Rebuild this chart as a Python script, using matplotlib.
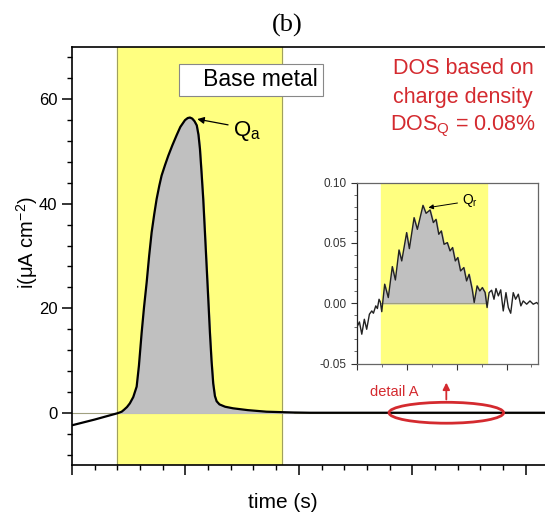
import matplotlib.pyplot as plt
from matplotlib.patches import Ellipse
from matplotlib.ticker import MultipleLocator, NullFormatter
import numpy as np

plt.rcParams['font.family'] = ['Liberation Sans', 'DejaVu Sans']
plt.rcParams['mathtext.default'] = 'regular'

# main transient (time in arbitrary s, current in uA cm-2)
t_main = [0, 20, 40, 42, 43.8, 46, 48.5, 51, 54, 57, 59, 61.4, 63.5, 65.8, 68, 70.2,
          72.5, 74.6, 77, 79, 82, 84.9, 88.5, 92.2, 95.5, 99.6, 102, 104, 106,
          108, 110, 111.5, 112.8, 114.2, 115.7, 117.2, 118.7, 120.2, 121.6, 123,
          124.5, 126, 127.5, 130, 135, 142, 155, 171.5, 195, 210, 260, 330, 417]
i_main = [-2.4, -1.3, -0.1, 0.05, 0.2, 0.6, 1.1, 1.8, 3.0, 5.0, 9.0, 15.3, 20.2, 24.9,
          30.0, 34.5, 38.0, 40.9, 43.5, 45.4, 47.4, 49.2, 51.2, 53.1, 54.7, 56.0,
          56.4, 56.5, 56.3, 55.8, 55.0, 53.2, 50.5, 46.0, 40.9, 34.5, 28.0, 21.5,
          15.3, 10.0, 5.6, 3.2, 2.2, 1.6, 1.15, 0.85, 0.5, 0.2, 0.05, 0.0, 0.0,
          0.0, 0.0]
band_main = (40, 185)

# detail A (inset)
t_det = [0, 1.5, 2.8, 4.2, 5.5, 7.0, 8.3, 9.2, 10.5, 11.4, 12.3, 13.0, 13.8,
         15.4, 17.4, 19.6, 21.3, 23.3, 24.8, 27.5, 29.0, 31.6, 33.4, 36.5, 38.2,
         40.4, 42.2, 43.7, 45.2, 46.6, 48.1, 49.9, 51.4, 52.8, 54.3, 55.7, 57.2,
         59.0, 60.5, 61.9, 63.6, 64.7, 66.3, 67.8, 69.2, 70.7, 71.8,
         72.9, 74.3, 75.6, 76.7, 78.0, 79.3, 80.7, 82.2, 83.5, 84.8, 86.2, 87.5,
         89.0, 90.4, 91.7, 93.6, 95.4, 97.2, 99.1, 100]
i_det = [-0.0202, -0.0155, -0.0257, -0.0133, -0.0216, -0.0091, -0.0064, -0.0083,
         -0.0022, -0.0044, 0.0033, 0.0011, -0.0070,
         0.0158, 0.0047, 0.0304, 0.0193, 0.0442, 0.0351, 0.0586, 0.0453, 0.0710,
         0.0613, 0.0812, 0.0746, 0.0774, 0.0669, 0.0696, 0.0572, 0.0600, 0.0489,
         0.0503, 0.0434, 0.0462, 0.0351, 0.0379, 0.0268, 0.0296, 0.0185, 0.0240,
         0.0116, 0.0006, 0.0144, 0.0102, 0.0130, 0.0089, -0.0036,
         0.0088, 0.0108, 0.0033, 0.0122, 0.0061, 0.0111, -0.0064, 0.0088, -0.0036,
         -0.0083, 0.0088, 0.0033, 0.0075, -0.0022, 0.0019, -0.0008, 0.0019,
         -0.0008, 0.0006, -0.0008]
band_det = (13.6, 71.8)

yellow = '#ffff80'
grey = '#c0c0c0'
red = '#d42a2f'

fig = plt.figure(figsize=(5.45, 5.13), dpi=100)
ax = fig.add_axes([72/545, 1 - 465/513, 1 - 72/545, (465 - 47)/513])

ax.axvspan(*band_main, color=yellow, zorder=0)
ax.axvline(band_main[0], color='#a0a060', lw=0.8, zorder=0.5)
ax.axvline(band_main[1], color='#a0a060', lw=0.8, zorder=0.5)
t = np.array(t_main)
i = np.array(i_main)
ax.fill_between(t, 0, i, where=(t >= band_main[0]) & (t <= band_main[1]) & (i > 0),
                color=grey, interpolate=True, zorder=1)
ax.axhline(0, color='#a0a080', lw=0.8, zorder=0.8)
ax.plot(t, i, color='black', lw=1.6, zorder=2)

ax.set_xlim(0, 417)
ax.set_ylim(-10, 70)
ax.spines['right'].set_visible(False)
for side in ['top', 'left', 'bottom']:
    ax.spines[side].set_linewidth(1.2)
ax.xaxis.set_major_locator(MultipleLocator(100))
ax.xaxis.set_minor_locator(MultipleLocator(20))
ax.xaxis.set_major_formatter(NullFormatter())
ax.yaxis.set_major_locator(MultipleLocator(20))
ax.yaxis.set_minor_locator(MultipleLocator(4))
ax.tick_params(which='major', length=7, width=1.1, labelsize=12)
ax.tick_params(which='minor', length=3.5, width=1.0)

fig.text(318/545, 1 - 80/513, '   Base metal', fontsize=16.5, ha='right', va='center',
         bbox=dict(facecolor='white', edgecolor='#888888', lw=0.8, pad=3.5))

ax.annotate('', xy=(108, 56.3), xytext=(140, 55), zorder=3,
            arrowprops=dict(arrowstyle='-|>', color='black', lw=0.9, mutation_scale=10))
ax.text(142, 54, r'Q$_{a}$', fontsize=16, ha='left', va='center')

dos_lines = ['DOS based on', 'charge density', r'DOS$_{Q}$ = 0.08%']
for k, line in enumerate(dos_lines):
    fig.text(463/545, 1 - (69 + 28.5*k)/513, line, color=red, fontsize=15.5,
             ha='center', va='center')

ax.add_patch(Ellipse((330, 0), 101, 4, fill=False, edgecolor=red, lw=2, zorder=3))
ax.annotate('', xy=(330, 6.3), xytext=(330, 2), zorder=3,
            arrowprops=dict(arrowstyle='-|>', color=red, lw=1.3, mutation_scale=10))
ax.text(284, 4, 'detail A', color=red, fontsize=10.5, ha='center', va='center')

fig.text(287/545, 1 - 25/513, '(b)', fontsize=19, ha='center', va='center',
         family=['Liberation Serif', 'DejaVu Serif'])
fig.text(283/545, 1 - 502/513, 'time (s)', fontsize=15, ha='center', va='center')
fig.text(27/545, 1 - 243/513, r'i($\mu$A cm$^{-2}$)', fontsize=14.5, ha='center',
         va='center', rotation=90)

# inset
ins = fig.add_axes([356.7/545, 1 - 363.5/513, 181.6/545, (363.5 - 182.7)/513])
ins.set_facecolor('white')
ins.axvspan(*band_det, color=yellow, zorder=0)
td = np.array(t_det)
idt = np.array(i_det)
ins.fill_between(td, 0, idt, where=(td >= band_det[0]) & (td <= band_det[1]) & (idt > 0),
                 color=grey, interpolate=True, zorder=1)
ins.plot([band_det[0], band_det[1]], [0, 0], color='#a0a080', lw=0.8, zorder=1.5)
ins.plot(td, idt, color='#222222', lw=1.0, zorder=2)
ins.set_xlim(0, 100)
ins.set_ylim(-0.05, 0.10)
for s in ins.spines.values():
    s.set_color('#666666')
    s.set_linewidth(0.9)
ins.spines['left'].set_color('#222222')
ins.xaxis.set_major_locator(MultipleLocator(27.5))
ins.xaxis.set_minor_locator(MultipleLocator(13.75))
ins.xaxis.set_major_formatter(NullFormatter())
ins.yaxis.set_major_locator(MultipleLocator(0.05))
ins.yaxis.set_minor_locator(MultipleLocator(0.01))
ins.yaxis.set_major_formatter(plt.FuncFormatter(lambda v, p: f'{v:.2f}'))
ins.tick_params(which='major', length=4, width=0.8, labelsize=8.5, colors='#333333')
ins.tick_params(which='minor', length=2, width=0.6, colors='#555555')
ins.annotate('', xy=(38, 0.0790), xytext=(57, 0.0835),
             arrowprops=dict(arrowstyle='-|>', color='black', lw=0.7, mutation_scale=7))
ins.text(58, 0.0855, r'Q$_{r}$', fontsize=10, ha='left', va='center')

fig.savefig('out.png', dpi=100)
